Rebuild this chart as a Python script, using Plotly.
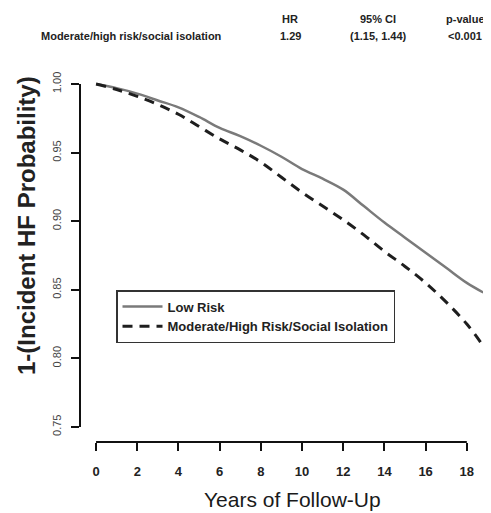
import plotly.graph_objects as go

years = [0, 1, 2, 3, 4, 5, 6, 7, 8, 9, 10, 11, 12, 13, 14, 15, 16, 17, 18, 18.8]
low_risk = [1.000, 0.997, 0.993, 0.988, 0.983, 0.976, 0.968, 0.962, 0.955, 0.947,
            0.938, 0.931, 0.923, 0.911, 0.899, 0.888, 0.877, 0.866, 0.855, 0.848]
mod_high = [1.000, 0.996, 0.991, 0.985, 0.978, 0.969, 0.960, 0.952, 0.943, 0.932,
            0.921, 0.911, 0.901, 0.890, 0.878, 0.867, 0.855, 0.841, 0.825, 0.809]

x_ticks = [0, 2, 4, 6, 8, 10, 12, 14, 16, 18]
y_ticks = [0.75, 0.80, 0.85, 0.90, 0.95, 1.00]
y_tick_text = ["0.75", "0.80", "0.85", "0.90", "0.95", "1.00"]

header_cols = ["HR", "95% CI", "p-value"]
header_row_label = "Moderate/high risk/social isolation"
header_vals = ["1.29", "(1.15, 1.44)", "<0.001"]

FONT = "Liberation Sans, Arial, sans-serif"
TXT = "#222222"

# plot area in screen pixels (page has an 8px body margin)
PL, PR, PT, PB = 80, 487, 78, 442
PW, PH = PR - PL, PB - PT


def px(x):
    return (x - PL) / PW


def py(y):
    return (PB - y) / PH


fig = go.Figure()
fig.add_trace(go.Scatter(x=years, y=low_risk, mode="lines", name="<b>Low Risk</b>",
                         line=dict(color="#7a7a7a", width=2.5), line_shape="spline"))
fig.add_trace(go.Scatter(x=years, y=mod_high, mode="lines",
                         name="<b>Moderate/High Risk/Social Isolation</b>",
                         line=dict(color="#1e1e1e", width=3, dash="10px,7px"), line_shape="spline"))

fig.update_layout(
    width=483, height=505,
    margin=dict(l=PL - 8, r=483 - (PR - 8), t=PT - 8, b=505 - (PB - 8), autoexpand=False),
    plot_bgcolor="white", paper_bgcolor="white",
    font=dict(family=FONT, color=TXT),
    showlegend=True,
    legend=dict(x=px(116), y=py(290), xanchor="left", yanchor="top",
                bordercolor="#333333", borderwidth=1.5, bgcolor="white",
                font=dict(family=FONT, size=13, color=TXT),
                tracegroupgap=0, itemwidth=40),
    xaxis=dict(range=[-0.78, 18.98], tickvals=x_ticks, ticks="outside", ticklen=8,
               tickwidth=2, tickcolor="#111", showgrid=False, zeroline=False,
               showline=False, automargin=False,
               tickfont=dict(size=13, family=FONT, color=TXT, weight="bold"),
               ticklabelstandoff=9),
    yaxis=dict(range=[0.739, 1.0044], tickvals=y_ticks, ticktext=y_tick_text,
               ticks="outside", ticklen=8, tickwidth=2, tickcolor="#111",
               showgrid=False, zeroline=False, showline=False, tickangle=-90,
               automargin=False, ticklabelstandoff=6,
               tickfont=dict(size=11, family=FONT, color="#444")),
)

# R-style detached axis lines
fig.add_shape(type="line", xref="x", yref="paper", x0=x_ticks[0], x1=x_ticks[-1], y0=0, y1=0,
              line=dict(color="#111", width=2))
fig.add_shape(type="line", xref="paper", yref="y", x0=0, x1=0, y0=y_ticks[0], y1=y_ticks[-1],
              line=dict(color="#111", width=2))

# Axis titles
fig.add_annotation(text="<b>1-(Incident HF Probability)</b>", xref="paper", yref="paper",
                   x=px(26), y=py(226), xanchor="center", yanchor="middle",
                   textangle=-90, showarrow=False,
                   font=dict(size=24, family=FONT, color=TXT))
fig.add_annotation(text="Years of Follow-Up", xref="paper", yref="paper",
                   x=px(292), y=py(500), xanchor="center", yanchor="middle", showarrow=False,
                   font=dict(size=21, family=FONT, color="#1a1a1a"))

# Header table
col_x = [290, 378, 465]
for cx, head, val in zip(col_x, header_cols, header_vals):
    fig.add_annotation(text="<b>" + head + "</b>", xref="paper", yref="paper",
                       x=px(cx), y=py(19), xanchor="center", yanchor="middle", showarrow=False,
                       font=dict(size=11, family=FONT, color=TXT))
    fig.add_annotation(text="<b>" + val + "</b>", xref="paper", yref="paper",
                       x=px(cx), y=py(36), xanchor="center", yanchor="middle", showarrow=False,
                       font=dict(size=11, family=FONT, color=TXT))
fig.add_annotation(text="<b>" + header_row_label + "</b>", xref="paper", yref="paper",
                   x=px(131), y=py(36), xanchor="center", yanchor="middle", showarrow=False,
                   font=dict(size=11, family=FONT, color=TXT))

fig.write_html("out.html")
